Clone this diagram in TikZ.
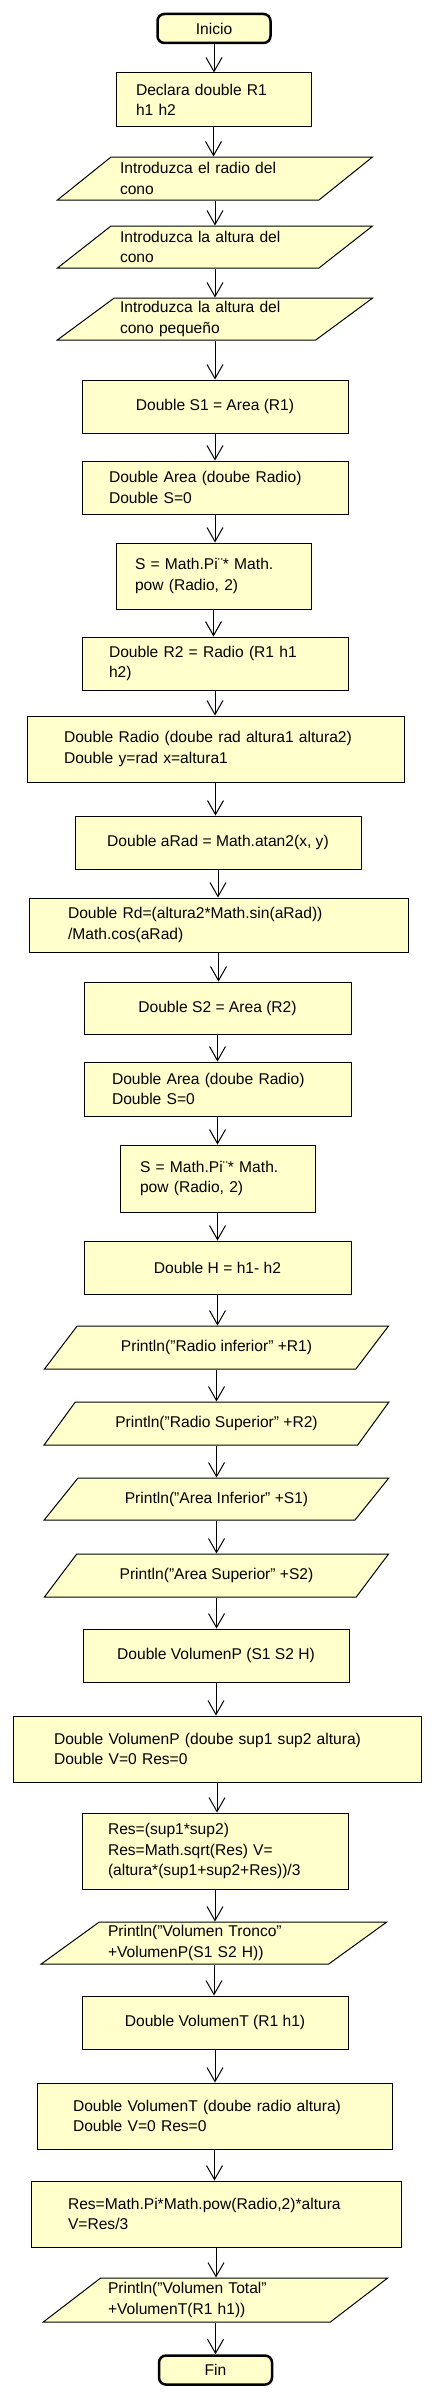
\documentclass[tikz,border=0pt]{standalone}
\usepackage{fontspec}
\setmainfont{Liberation Sans}
\usetikzlibrary{arrows.meta,shapes.geometric}
\definecolor{boxfill}{RGB}{255,255,204}

\begin{document}
\begin{tikzpicture}[x=1pt,y=-1pt,->,>={Straight Barb[length=14pt,width=16pt]},
    line width=1pt,font=\fontsize{15.6pt}{20.3pt}\selectfont]
\tikzset{
  proc/.style={rectangle,draw,fill=boxfill,inner ysep=0pt,align=left},
  term/.style={rectangle,rounded corners=7pt,draw,line width=2.5pt,fill=boxfill,
    minimum width=113pt,minimum height=29pt,inner sep=0pt},
  io/.style={trapezium,trapezium left angle=33,trapezium right angle=147,
    trapezium stretches=true,draw,fill=boxfill,inner sep=0pt,align=left}
}
\fill[white] (0,0) rectangle (434,2398);

\node[term] (start) at (214,28.5) {Inicio};
\node[proc,minimum width=195pt,minimum height=53pt,inner xsep=20pt,text width=155pt]
    (decl) at (213.5,99.5) {Declara double R1\\h1 h2};
\node[io,minimum width=316pt,minimum height=43pt,text width=190pt]
    (in1) at (215,178.5) {Introduzca el radio del\\cono};
\node[io,minimum width=316pt,minimum height=42pt,text width=190pt]
    (in2) at (215,247) {Introduzca la altura del\\cono};
\node[io,minimum width=316pt,minimum height=42pt,text width=190pt]
    (in3) at (215,319) {Introduzca la altura del\\cono pequeño};
\node[proc,minimum width=266pt,minimum height=53pt,align=center]
    (s1) at (215,406.5) {Double S1 = Area (R1)};
\node[proc,minimum width=266pt,minimum height=53pt,inner xsep=27pt,text width=212pt]
    (area1) at (215,487.5) {Double Area (doube Radio)\\Double S=0};
\node[proc,minimum width=195pt,minimum height=66pt,inner xsep=19pt,text width=157pt]
    (pow1) at (213.5,576) {S = Math.Pi¨* Math.\\pow (Radio, 2)};
\node[proc,minimum width=266pt,minimum height=53pt,inner xsep=27pt,text width=212pt]
    (r2) at (215,663.5) {Double R2 = Radio (R1 h1\\h2)};
\node[proc,minimum width=377pt,minimum height=66pt,inner xsep=37pt,text width=303pt]
    (rad) at (215.5,749) {Double Radio (doube rad altura1 altura2)\\Double y=rad x=altura1};
\node[proc,minimum width=286pt,minimum height=53pt,align=center]
    (arad) at (218,842.5) {Double aRad = Math.atan2(x, y)};
\node[proc,minimum width=379pt,minimum height=54pt,inner xsep=39pt,text width=301pt]
    (rd) at (218.5,925) {Double Rd=(altura2*Math.sin(aRad))\\/Math.cos(aRad)};
\node[proc,minimum width=267pt,minimum height=52pt,align=center]
    (s2) at (217.5,1008) {Double S2 = Area (R2)};
\node[proc,minimum width=267pt,minimum height=54pt,inner xsep=28pt,text width=211pt]
    (area2) at (217.5,1089) {Double Area (doube Radio)\\Double S=0};
\node[proc,minimum width=195pt,minimum height=67pt,inner xsep=20pt,text width=155pt]
    (pow2) at (217.5,1178.5) {S = Math.Pi¨* Math.\\pow (Radio, 2)};
\node[proc,minimum width=267pt,minimum height=53pt,align=center]
    (h) at (217.5,1267.5) {Double H = h1- h2};
\node[io,minimum width=345pt,minimum height=43pt,align=center]
    (out1) at (216.5,1347.5) {Println("Radio inferior" +R1)};
\node[io,minimum width=345pt,minimum height=43pt,align=center]
    (out2) at (216.5,1423.5) {Println("Radio Superior" +R2)};
\node[io,minimum width=345pt,minimum height=42pt,align=center]
    (out3) at (216.5,1499) {Println("Area Inferior" +S1)};
\node[io,minimum width=345pt,minimum height=43pt,align=center]
    (out4) at (216.5,1575.5) {Println("Area Superior" +S2)};
\node[proc,minimum width=266pt,minimum height=53pt,align=center]
    (volp) at (216,1655.5) {Double VolumenP (S1 S2 H)};
\node[proc,minimum width=408pt,minimum height=66pt,inner xsep=41pt,text width=326pt]
    (volp2) at (217,1749) {Double VolumenP (doube sup1 sup2 altura)\\Double V=0 Res=0};
\node[proc,minimum width=266pt,minimum height=76pt,inner xsep=26pt,text width=214pt]
    (res1) at (215,1851) {Res=(sup1*sup2)\\Res=Math.sqrt(Res) V=\\(altura*(sup1+sup2+Res))/3};
\node[io,minimum width=346pt,minimum height=42pt,text width=212pt]
    (out5) at (214,1943) {Println("Volumen Tronco"\\+VolumenP(S1 S2 H))};
\node[proc,minimum width=266pt,minimum height=53pt,align=center]
    (volt) at (215,2022.5) {Double VolumenT (R1 h1)};
\node[proc,minimum width=355pt,minimum height=66pt,inner xsep=36pt,text width=283pt]
    (volt2) at (214.5,2116) {Double VolumenT (doube radio altura)\\Double V=0 Res=0};
\node[proc,minimum width=370pt,minimum height=66pt,inner xsep=37pt,text width=296pt]
    (res2) at (216,2214) {Res=Math.Pi*Math.pow(Radio,2)*altura\\V=Res/3};
\node[io,minimum width=345pt,minimum height=44pt,text width=215pt]
    (out6) at (215.5,2300) {Println("Volumen Total"\\+VolumenT(R1 h1))};
\node[term] (fin) at (215.5,2370) {Fin};

\foreach \a/\b in {start/decl,decl/in1,in1/in2,in2/in3,in3/s1,s1/area1,area1/pow1,
    pow1/r2,r2/rad,rad/arad,arad/rd,rd/s2,s2/area2,area2/pow2,pow2/h,h/out1,
    out1/out2,out2/out3,out3/out4,out4/volp,volp/volp2,volp2/res1,res1/out5,
    out5/volt,volt/volt2,volt2/res2,res2/out6,out6/fin}
  \draw (\a.south) -- (\a.south |- \b.north);
\end{tikzpicture}
\end{document}
